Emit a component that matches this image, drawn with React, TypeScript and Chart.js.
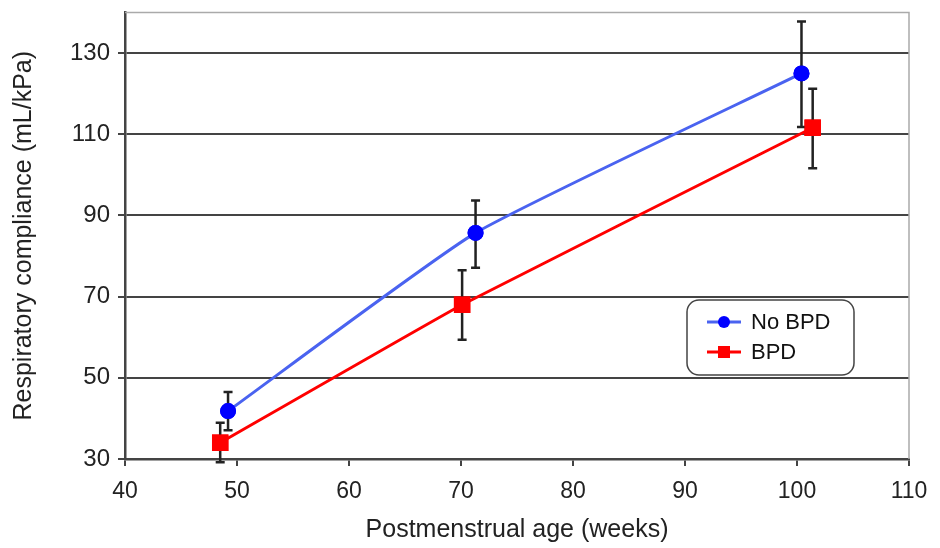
import React, { useEffect, useRef } from "react";
import { Chart, registerables } from "chart.js";

Chart.register(...registerables);

const noBpdX = [49.2, 71.3, 100.4];
const noBpdY = [41.8, 85.7, 125.0];
const noBpdLow = [37.1, 77.1, 111.8];
const noBpdHigh = [46.5, 93.7, 137.8];

const bpdX = [48.5, 70.1, 101.4];
const bpdY = [34.0, 68.0, 111.6];
const bpdLow = [29.2, 59.4, 101.6];
const bpdHigh = [38.9, 76.5, 121.2];

const yTickValues = [30, 50, 70, 90, 110, 130];
const seriesNames = ["No BPD", "BPD"];
const xTitle = "Postmenstrual age (weeks)";
const yTitle = "Respiratory compliance (mL/kPa)";

const FONT = "'Liberation Sans', Arial, Helvetica, sans-serif";

const errorBarPlugin = {
  id: "errorBars",
  afterDatasetsDraw(chart: any) {
    const ctx = chart.ctx;
    const xs = chart.scales.x;
    const ys = chart.scales.y;
    const sets = [
      { x: noBpdX, lo: noBpdLow, hi: noBpdHigh },
      { x: bpdX, lo: bpdLow, hi: bpdHigh },
    ];
    ctx.save();
    ctx.strokeStyle = "#222";
    ctx.lineWidth = 2.5;
    sets.forEach((s) => {
      s.x.forEach((xv, i) => {
        const px = xs.getPixelForValue(xv);
        const pl = ys.getPixelForValue(s.lo[i]);
        const ph = ys.getPixelForValue(s.hi[i]);
        ctx.beginPath();
        ctx.moveTo(px, pl);
        ctx.lineTo(px, ph);
        ctx.moveTo(px - 4.5, pl);
        ctx.lineTo(px + 4.5, pl);
        ctx.moveTo(px - 4.5, ph);
        ctx.lineTo(px + 4.5, ph);
        ctx.stroke();
      });
    });
    ctx.restore();
    chart.getSortedVisibleDatasetMetas().forEach((meta: any) => {
      meta.data.forEach((el: any) => el.draw(ctx, chart.chartArea));
    });
  },
};

const frameLegendPlugin = {
  id: "frameLegend",
  beforeDatasetsDraw(chart: any) {
    const ctx = chart.ctx;
    const a = chart.chartArea;
    ctx.save();
    ctx.strokeStyle = "#aaa";
    ctx.lineWidth = 1.5;
    ctx.beginPath();
    ctx.moveTo(a.left, a.top);
    ctx.lineTo(a.right, a.top);
    ctx.lineTo(a.right, a.bottom);
    ctx.stroke();
    ctx.restore();
  },
  afterDraw(chart: any) {
    const ctx = chart.ctx;
    const bx = 687, by = 300, bw = 167, bh = 75, r = 12;
    ctx.save();
    ctx.fillStyle = "#fff";
    ctx.strokeStyle = "#444";
    ctx.lineWidth = 1.5;
    ctx.beginPath();
    ctx.roundRect(bx, by, bw, bh, r);
    ctx.fill();
    ctx.stroke();
    const items = [
      { name: seriesNames[0], line: "#4a63f0", mark: "#0000ff", style: "circle", y: 322 },
      { name: seriesNames[1], line: "#ff0000", mark: "#ff0000", style: "rect", y: 352 },
    ];
    items.forEach((it) => {
      ctx.strokeStyle = it.line;
      ctx.lineWidth = 3;
      ctx.beginPath();
      ctx.moveTo(707, it.y);
      ctx.lineTo(741, it.y);
      ctx.stroke();
      ctx.fillStyle = it.mark;
      if (it.style === "circle") {
        ctx.beginPath();
        ctx.arc(724, it.y, 6, 0, Math.PI * 2);
        ctx.fill();
      } else {
        ctx.fillRect(718, it.y - 6, 12, 12);
      }
      ctx.fillStyle = "#111";
      ctx.font = `22px ${FONT}`;
      ctx.textBaseline = "middle";
      ctx.textAlign = "left";
      ctx.fillText(it.name, 751, it.y + 1);
    });
    ctx.restore();
  },
};

export default function App() {
  const ref = useRef<HTMLCanvasElement>(null);
  useEffect(() => {
    if (!ref.current) return;
    const chart = new Chart(ref.current, {
      type: "line",
      data: {
        datasets: [
          {
            label: seriesNames[0],
            data: noBpdX.map((x, i) => ({ x, y: noBpdY[i] })),
            borderColor: "#4a63f0",
            backgroundColor: "#0000ff",
            pointBackgroundColor: "#0000ff",
            pointBorderColor: "#0000ff",
            pointStyle: "circle",
            pointRadius: 6.5,
            borderWidth: 3,
            tension: 0.15,
          },
          {
            label: seriesNames[1],
            data: bpdX.map((x, i) => ({ x, y: bpdY[i] })),
            borderColor: "#ff0000",
            backgroundColor: "#ff0000",
            pointBackgroundColor: "#ff0000",
            pointBorderColor: "#ff0000",
            pointStyle: "rect",
            pointRadius: 9.5,
            borderWidth: 3,
            tension: 0.1,
          },
        ],
      },
      options: {
        animation: false,
        responsive: false,
        maintainAspectRatio: false,
        layout: { padding: { top: 10, right: 31, left: 0, bottom: 0 } },
        plugins: {
          legend: { display: false },
          tooltip: { enabled: false },
        },
        scales: {
          x: {
            type: "linear",
            min: 40,
            max: 110,
            ticks: {
              stepSize: 10,
              color: "#222",
              font: { family: FONT, size: 23 },
              padding: 12,
            },
            grid: {
              drawOnChartArea: false,
              drawTicks: true,
              tickLength: 7,
              color: "#444",
              lineWidth: 2,
            },
            border: { color: "#444", width: 2.5 },
            title: {
              display: true,
              text: xTitle,
              color: "#222",
              font: { family: FONT, size: 25 },
              padding: { top: 0, bottom: 3 },
            },
            afterFit(scale: any) {
              scale.height = 89;
              scale.paddingLeft = 0;
              scale.paddingRight = 0;
            },
          },
          y: {
            type: "linear",
            min: 30,
            max: 140,
            afterBuildTicks(scale: any) {
              scale.ticks = yTickValues.map((v) => ({ value: v }));
            },
            ticks: {
              stepSize: 20,
              color: "#222",
              font: { family: FONT, size: 24 },
              padding: 8,
            },
            grid: {
              color: "#444",
              lineWidth: 2,
              tickLength: 7,
            },
            border: { color: "#444", width: 2.5 },
            title: {
              display: true,
              text: yTitle,
              color: "#222",
              font: { family: FONT, size: 25 },
              padding: { top: 9, bottom: 0 },
            },
            afterFit(scale: any) {
              scale.width = 125;
              scale.paddingTop = 0;
              scale.paddingBottom = 0;
            },
          },
        },
      },
      plugins: [frameLegendPlugin, errorBarPlugin],
    } as any);
    return () => chart.destroy();
  }, []);
  return (
    <div style={{ position: "fixed", left: 0, top: 0, width: 940, height: 548, background: "#fff" }}>
      <canvas ref={ref} width={940} height={548} style={{ width: 940, height: 548 }} />
    </div>
  );
}
